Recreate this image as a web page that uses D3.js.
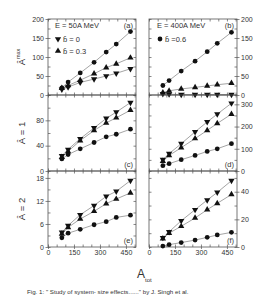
<!DOCTYPE html>
<html>
<head>
<meta charset="utf-8">
<script src="https://cdn.jsdelivr.net/npm/d3@7"></script>
<style>
  body { margin: 0; background: #fff; }
  text { font-family: "Liberation Sans", Arial, sans-serif; fill: #333; }
</style>
</head>
<body>
<svg id="chart" width="273" height="301"></svg>
<script>
// system sizes (A_tot)
var aTot = [80, 116, 186, 266, 336, 394, 476];

// (a) A^max, E = 50A MeV
var aDown = [15, 21, 33, 42, 50, 57, 69];
var aUp = [18, 25, 39, 56, 72, 82, 98];
var aCirc = [19, 34, 58, 86, 113, 134, 167];
// (b) A^max, E = 400A MeV
var bDown = [3, 2, 1, 1, 1, 1, 1];
var bUp = [6, 11, 16, 20, 24, 27, 31];
var bCirc = [25, 38, 63, 89, 114, 136, 165];
// (c) A = 1, 50A MeV
var cDown = [24, 34, 51, 68, 83, 93, 108];
var cUp = [22, 31, 48, 64, 76, 84, 96];
var cCirc = [19, 26, 35, 45, 54, 58, 66];
// (d) A = 1, 400A MeV
var dDown = [51, 78, 123, 176, 221, 256, 305];
var dUp = [44, 70, 105, 146, 183, 214, 256];
var dCirc = [24, 33, 51, 70, 88, 100, 123];
// (e) A = 2, 50A MeV
var eDown = [3.8, 5.6, 8.4, 10.8, 13.2, 14.5, 17.3];
var eUp = [3.4, 5.1, 7.3, 9.3, 11.3, 12.5, 14.1];
var eCirc = [2.4, 3.6, 4.6, 5.8, 6.6, 7.7, 8.3];
// (f) A = 2, 400A MeV
var fDown = [6.7, 11, 19, 27, 34, 39.5, 48];
var fUp = [6, 10, 15, 21, 27, 31.6, 38];
var fCirc = [0.7, 1.7, 3.2, 5, 7, 8.7, 10.6];

var xTicks = [0, 150, 300, 450];
var panels = [
  {id: "(a)", col: 0, row: 0, ymax: 200, ticks: [0, 50, 100, 150, 200], minor: 25, down: aDown, up: aUp, circ: aCirc, tag: "top"},
  {id: "(b)", col: 1, row: 0, ymax: 200, ticks: [0, 50, 100, 150, 200], minor: 25, down: bDown, up: bUp, circ: bCirc, tag: "top"},
  {id: "(c)", col: 0, row: 1, ymax: 120, ticks: [0, 40, 80], minor: 20, down: cDown, up: cUp, circ: cCirc, tag: "bot"},
  {id: "(d)", col: 1, row: 1, ymax: 342, ticks: [0, 100, 200, 300], minor: 50, down: dDown, up: dUp, circ: dCirc, tag: "bot"},
  {id: "(e)", col: 0, row: 2, ymax: 19.8, ticks: [0, 6, 12, 18], minor: 3, down: eDown, up: eUp, circ: eCirc, tag: "bot"},
  {id: "(f)", col: 1, row: 2, ymax: 55, ticks: [0, 20, 40], minor: 10, down: fDown, up: fUp, circ: fCirc, tag: "bot"}
];

var svg = d3.select("svg#chart");
var colX = [48, 149], pw = 88;
var rowY = [19, 95, 171], ph = 76;
var axisColor = "#555";

panels.forEach(function(p) {
  var x0 = colX[p.col], y0 = rowY[p.row];
  var x = d3.scaleLinear().domain([0, 508]).range([x0, x0 + pw]);
  var y = d3.scaleLinear().domain([0, p.ymax]).range([y0 + ph, y0]);
  var g = svg.append("g");

  // frame
  g.append("rect").attr("x", x0).attr("y", y0).attr("width", pw).attr("height", ph)
    .attr("fill", "none").attr("stroke", axisColor).attr("stroke-width", 0.8);

  // y ticks on both sides, labels on outer side
  var yminor = d3.range(0, p.ymax + 0.001, p.minor);
  var left = d3.axisLeft(y).tickValues(yminor).tickSizeInner(-2.5).tickSizeOuter(0).tickFormat("");
  var right = d3.axisRight(y).tickValues(yminor).tickSizeInner(-2.5).tickSizeOuter(0).tickFormat("");
  g.append("g").attr("transform", "translate(" + x0 + ",0)").call(left);
  g.append("g").attr("transform", "translate(" + (x0 + pw) + ",0)").call(right);
  var lab = p.col === 0
    ? d3.axisLeft(y).tickValues(p.ticks).tickSize(2.5).tickPadding(1.5)
    : d3.axisRight(y).tickValues(p.ticks).tickSize(2.5).tickPadding(1.5);
  g.append("g").attr("transform", "translate(" + (p.col === 0 ? x0 : x0 + pw) + ",0)").call(lab);

  // x ticks top/bottom
  var xminor = d3.range(0, 501, 50);
  g.append("g").attr("transform", "translate(0," + y0 + ")")
    .call(d3.axisTop(x).tickValues(xminor).tickSizeInner(-2.5).tickSizeOuter(0).tickFormat(""));
  var bottom = d3.axisBottom(x).tickValues(xminor).tickSizeInner(-2.5).tickSizeOuter(0).tickFormat("");
  g.append("g").attr("transform", "translate(0," + (y0 + ph) + ")").call(bottom);
  if (p.row === 2) {
    g.append("g").attr("transform", "translate(0," + (y0 + ph) + ")")
      .call(d3.axisBottom(x).tickValues(xTicks).tickSize(2).tickPadding(1.5));
  }

  g.selectAll(".domain").remove();
  g.selectAll(".tick line").attr("stroke", axisColor).attr("stroke-width", 0.7);
  g.selectAll(".tick text").attr("font-size", 7).attr("fill", "#444")
    .style("font-family", "Liberation Sans, Arial, sans-serif");

  // series
  var series = [
    {vals: p.down, sym: d3.symbolTriangle, rot: 180},
    {vals: p.up, sym: d3.symbolTriangle, rot: 0},
    {vals: p.circ, sym: d3.symbolCircle, rot: 0}
  ];
  var line = d3.line().x(function(d, i) { return x(aTot[i]); }).y(function(d) { return y(d); });
  series.forEach(function(s) {
    g.append("path").attr("d", line(s.vals)).attr("fill", "none")
      .attr("stroke", "#666").attr("stroke-width", 0.6);
  });
  series.forEach(function(s) {
    g.selectAll(null).data(s.vals).enter().append("path")
      .attr("d", d3.symbol().type(s.sym).size(s.sym === d3.symbolCircle ? 18 : 17))
      .attr("transform", function(d, i) {
        return "translate(" + x(aTot[i]) + "," + y(d) + ") rotate(" + s.rot + ")";
      })
      .attr("fill", "#111");
  });

  // panel tag
  g.append("text").attr("x", x0 + pw - 3).attr("y", p.tag === "top" ? y0 + 9 : y0 + ph - 4)
    .attr("text-anchor", "end").attr("font-size", 7.5).text(p.id);
});

// legends
function bhat(gx, gy, txt) {
  svg.append("text").attr("x", gx).attr("y", gy).attr("font-size", 7.5).text("b\u0302" + txt);
}
svg.append("text").attr("x", 55).attr("y", 28).attr("font-size", 7.5).text("E = 50A MeV");
svg.append("path").attr("d", d3.symbol().type(d3.symbolTriangle).size(17)())
  .attr("transform", "translate(58,39) rotate(180)").attr("fill", "#111");
bhat(63, 42, " = 0");
svg.append("path").attr("d", d3.symbol().type(d3.symbolTriangle).size(17)())
  .attr("transform", "translate(58,51)").attr("fill", "#111");
bhat(63, 54, " = 0.3");

svg.append("text").attr("x", 157).attr("y", 28).attr("font-size", 7.5).text("E = 400A MeV");
svg.append("path").attr("d", d3.symbol().type(d3.symbolCircle).size(18)())
  .attr("transform", "translate(160,39)").attr("fill", "#111");
bhat(165, 42, " =0.6");

// y titles
var yTitles = [
  {cy: 57, t: "Â", sup: "max"},
  {cy: 133, t: "Â = 1", sup: ""},
  {cy: 209, t: "Â = 2", sup: ""}
];
yTitles.forEach(function(d) {
  var t = svg.append("text").attr("transform", "translate(25," + d.cy + ") rotate(-90)")
    .attr("text-anchor", "middle").attr("font-size", 9.5).text(d.t);
  if (d.sup) t.append("tspan").attr("dy", -5).attr("font-size", 5.5).text(d.sup);
});

// x title
var xt = svg.append("text").attr("x", 137).attr("y", 278).attr("font-size", 12).text("A");
xt.append("tspan").attr("dy", 4).attr("font-size", 6).text("tot");

// caption
svg.append("text").attr("x", 27).attr("y", 294).attr("font-size", 6.2)
  .text("Fig. 1: \" Study of system- size effects......\" by J. Singh et al.");
</script>
</body>
</html>
